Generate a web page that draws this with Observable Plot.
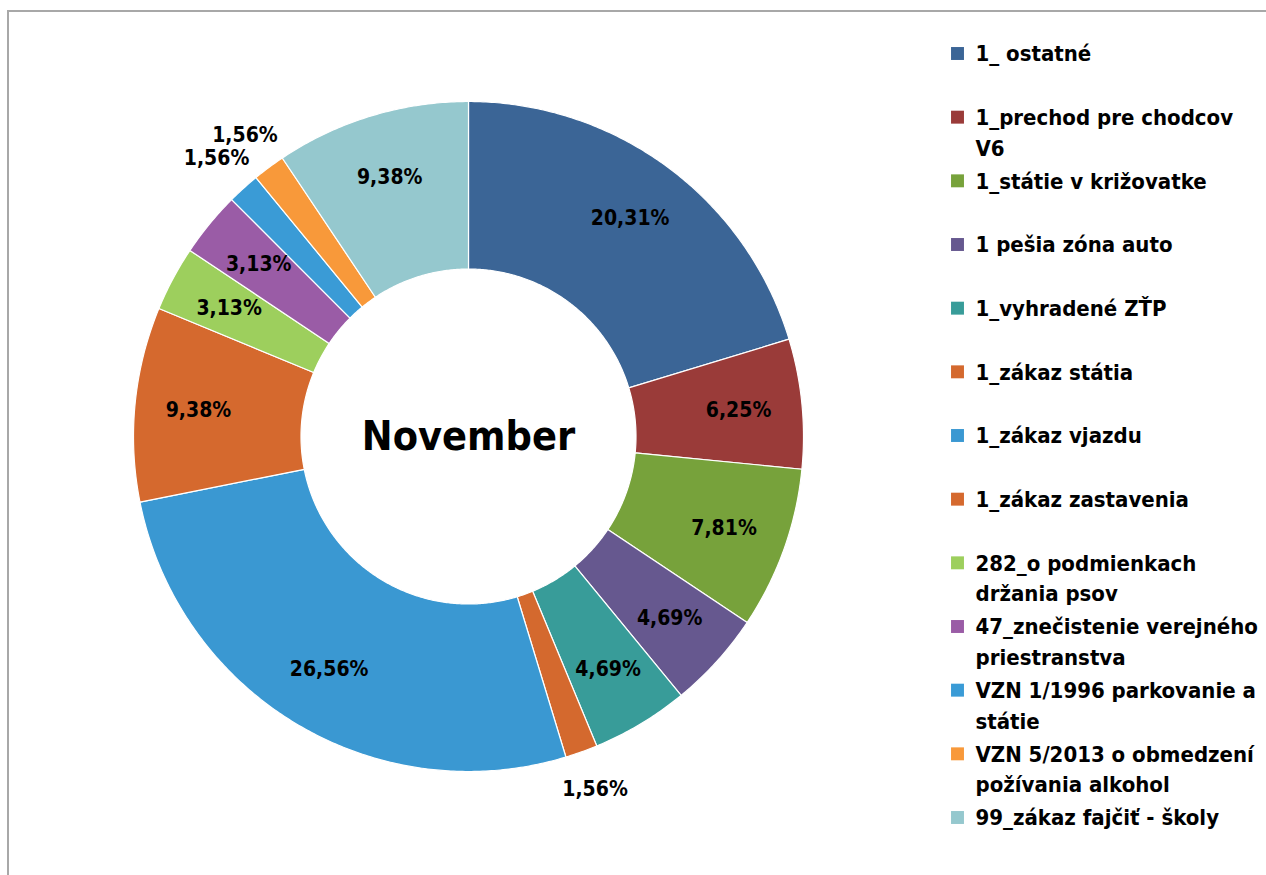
<!DOCTYPE html>
<html><head><meta charset="utf-8">
<script src="https://cdn.jsdelivr.net/npm/d3@7"></script>
<script src="https://cdn.jsdelivr.net/npm/@observablehq/plot@0.6"></script>
<style>
html,body{margin:0;padding:0;background:#fff;overflow:hidden;width:1266px;height:875px;}
#frame{position:absolute;left:7px;top:10px;width:1400px;height:1000px;border-left:2px solid #a8a8a8;border-top:2px solid #a8a8a8;}
#donut{position:absolute;left:0;top:0;line-height:0;}
#legend{position:absolute;left:940px;top:0;line-height:0;}
</style></head><body>
<div id="frame"></div><div id="donut"></div><div id="legend"></div>
<script>
const categories = [
  "1_ ostatné",
  "1_prechod pre chodcov V6",
  "1_státie v križovatke",
  "1 pešia zóna auto",
  "1_vyhradené ZŤP",
  "1_zákaz státia",
  "1_zákaz vjazdu",
  "1_zákaz zastavenia",
  "282_o podmienkach držania psov",
  "47_znečistenie verejného priestranstva",
  "VZN 1/1996 parkovanie a státie",
  "VZN 5/2013 o obmedzení požívania alkohol",
  "99_zákaz fajčiť - školy"
];
const percents = [20.31, 6.25, 7.81, 4.69, 4.69, 1.56, 26.56, 9.38, 3.13, 3.13, 1.56, 1.56, 9.38];
const colors = ["#3b6596", "#9a3b39", "#77a23b", "#66588f", "#389c99", "#d4692e", "#3a98d2", "#d5692e", "#9dcf5d", "#9a5ca6", "#3a9bd6", "#f8993a", "#95c8ce"];
const centerTitle = "November";

const FONT = '"DejaVu Sans Condensed", "DejaVu Sans", sans-serif';

// layout (pixels)
const W = 936, H = 875, CX = 468, CY = 436, R = 335, HOLE = 0.5;
const xDomain = [-CX / R, (W - CX) / R];
const yDomain = [-(H - CY) / R, CY / R];

const fmt = v => v.toFixed(2).replace(".", ",") + "%";

const data = categories.map((c, i) => ({cat: c, pct: percents[i]}));
const arcs = d3.pie().sort(null).value(d => d.pct)(data);

const ringPoints = arcs.flatMap(a => {
  const n = Math.max(2, Math.ceil((a.endAngle - a.startAngle) / (Math.PI / 360)));
  const ts = d3.range(n + 1).map(k => a.startAngle + (a.endAngle - a.startAngle) * k / n);
  const outer = ts.map(t => ({cat: a.data.cat, x: Math.sin(t), y: Math.cos(t)}));
  const inner = ts.slice().reverse().map(t => ({cat: a.data.cat, x: HOLE * Math.sin(t), y: HOLE * Math.cos(t)}));
  return outer.concat(inner);
});

const labels = arcs.map(a => {
  const m = (a.startAngle + a.endAngle) / 2;
  const r = a.data.pct < 2 ? 1.12 : 0.81;
  return {text: fmt(a.data.pct), x: r * Math.sin(m), y: r * Math.cos(m)};
});

const donut = Plot.plot({
  width: W, height: H, margin: 0,
  style: {fontFamily: FONT, background: "transparent"},
  x: {domain: xDomain, axis: null},
  y: {domain: yDomain, axis: null},
  color: {domain: categories, range: colors},
  marks: [
    Plot.line(ringPoints, {x: "x", y: "y", z: "cat", fill: "cat", stroke: "white", strokeWidth: 1.2, curve: "linear-closed"}),
    Plot.text(labels, {x: "x", y: "y", text: "text", fontSize: 21, fontWeight: "bold", fill: "#000", fontFamily: FONT}),
    Plot.text([centerTitle], {x: 0, y: 0, text: d => d, fontSize: 41, fontWeight: "bold", fill: "#000", fontFamily: FONT})
  ]
});
document.getElementById("donut").appendChild(donut);

// wrap legend labels to the available width using the real font metrics
const LEG_FS = 22, LEG_MAX = 290;
const ctx = document.createElement("canvas").getContext("2d");
ctx.font = `bold ${LEG_FS}px ${FONT}`;
function wrap(s) {
  const words = s.split(" ");
  const lines = [];
  let cur = "";
  for (const w of words) {
    const t = cur ? cur + " " + w : w;
    if (cur && ctx.measureText(t).width > LEG_MAX) { lines.push(cur); cur = w; }
    else cur = t;
  }
  if (cur) lines.push(cur);
  return lines.join("\n");
}

const legend = Plot.plot({
  width: 326, height: H, margin: 0,
  style: {fontFamily: FONT, background: "transparent"},
  x: {domain: [0, 1], range: [17, 35], axis: null},
  y: {type: "point", domain: categories, range: [53, 817], padding: 0, round: false, axis: null},
  color: {domain: categories, range: colors},
  marks: [
    Plot.dot(categories, {x: 0, y: d => d, fill: d => d, symbol: "square", r: 7.3}),
    Plot.text(categories, {x: 1, y: d => d, text: d => wrap(d), textAnchor: "start", lineAnchor: "top", dy: -14,
      lineHeight: 1.4, fontSize: LEG_FS, fontWeight: "bold", fill: "#000", fontFamily: FONT})
  ]
});
document.getElementById("legend").appendChild(legend);
</script>
</body></html>
